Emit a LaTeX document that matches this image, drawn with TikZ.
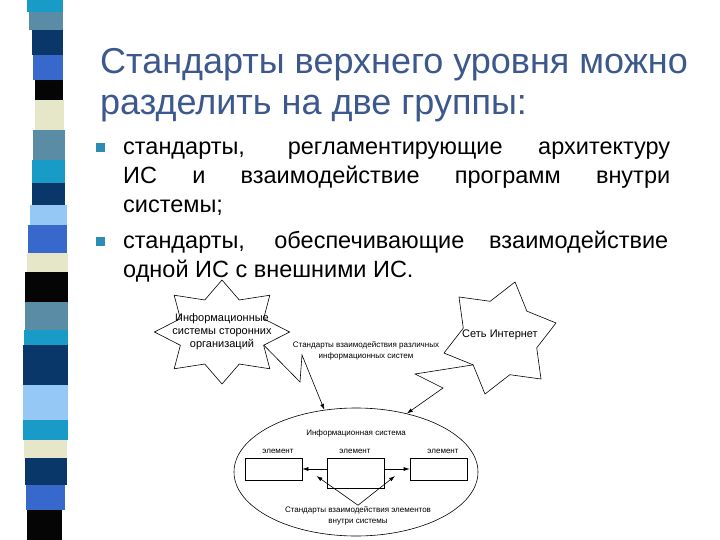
\documentclass[tikz,border=0pt]{standalone}
\usepackage{fontspec}
\setmainfont{Liberation Sans}
\usetikzlibrary{shapes.geometric,arrows.meta,calc}
\definecolor{titleblue}{RGB}{60,88,140}
\definecolor{bulletteal}{RGB}{45,140,180}
\definecolor{scyan}{RGB}{25,155,200}
\definecolor{sgrey}{RGB}{90,140,165}
\definecolor{snavy}{RGB}{10,55,105}
\definecolor{sblue}{RGB}{55,105,205}
\definecolor{sblack}{RGB}{5,5,5}
\definecolor{scream}{RGB}{230,230,200}
\definecolor{slight}{RGB}{150,200,245}
\tikzset{
  titletext/.style={
    anchor=base west,
    inner sep=0,
    text=titleblue,
    font=\fontsize{36}{42}\selectfont
  },
  bullettext/.style={
    anchor=base west,
    inner sep=0,
    font=\fontsize{23.5}{29}\selectfont
  },
  bulletsq/.style={
    fill=bulletteal,
    minimum size=9pt,
    inner sep=0
  },
  orgstar/.style={
    star, star points=8, star point ratio=1.5,
    minimum size=104pt,
    inner sep=0,
    draw, line width=0.6pt
  },
  starline/.style={
    line width=0.6pt,
    line join=miter
  },
  startext/.style={
    align=center,
    font=\fontsize{11}{13}\selectfont
  },
  smalltext/.style={
    align=center,
    inner sep=1pt,
    font=\fontsize{8}{11.5}\selectfont
  },
  isellipse/.style={
    ellipse,
    draw, line width=0.6pt,
    minimum width=244pt,
    minimum height=128pt,
    inner sep=0
  },
  elbox/.style={
    draw, line width=0.6pt,
    minimum width=57pt,
    minimum height=22pt,
    inner sep=0
  },
  flow/.style={
    -{Latex[length=6pt,width=4pt]},
    line width=0.6pt
  }
}

\begin{document}
\begin{tikzpicture}[x=1pt,y=-1pt]
  \useasboundingbox (0,0) rectangle (720,540);
  % left stripe
  \foreach \ya/\yb/\xl/\xr/\col in {
      0/12/27/63/scyan, 12/30/29/63/sgrey, 30/55/32/63/snavy,
      55/80/33/63/sblue, 80/100/35/63/sblack, 100/130/35/64/scream,
      130/160/33/65/sgrey, 160/183/32/65/scyan, 183/205/32/65/snavy,
      205/225/30/67/slight, 225/253/28/67/sblue, 253/272/27/68/scream,
      272/302/25/68/sblack, 302/330/25/68/sgrey, 330/345/24/68/scyan,
      345/385/23/68/snavy, 385/420/23/68/slight, 420/440/23/68/scyan,
      440/458/24/67/scream, 458/485/25/67/snavy, 485/510/26/65/sblue,
      510/540/27/62/sblack} {
    \fill[\col] (\xl,\ya) rectangle (\xr,\yb);
  }

  % title
  \node[titletext] (title1) at (100,74) {Стандарты верхнего уровня можно};
  \node[titletext] (title2) at (100,115) {разделить на две группы:};

  % bullets
  \node[bulletsq] (sq1) at (100,148) {};
  \node[bullettext] (line1) at (123,155) {\makebox[547pt][s]{стандарты, регламентирующие архитектуру}};
  \node[bullettext] (line2) at (123,184) {\makebox[547pt][s]{ИС и взаимодействие программ внутри}};
  \node[bullettext] (line3) at (123,212) {системы;};
  \node[bulletsq] (sq2) at (100,241) {};
  \node[bullettext] (line4) at (123,248) {\makebox[545pt][s]{стандарты, обеспечивающие взаимодействие}};
  \node[bullettext] (line5) at (123,277) {одной ИС с внешними ИС.};

  % outer systems
  \node[orgstar, xscale=1.3] (orgs) at (222,332) {};
  \node[startext] (orgstxt) at (orgs.center) {Информационные\\системы сторонних\\организаций};
  \draw[starline] ({500+58*cos(75)},{338-58*sin(75)})
    \foreach \k in {0,...,5} {
      -- ({500+38*cos(105+60*\k)},{338-38*sin(105+60*\k)})
      -- ({500+58*cos(135+60*\k)},{338-58*sin(135+60*\k)})
    } -- cycle;
  \coordinate (inetin) at ({500+38*cos(225)},{338-38*sin(225)});
  \node[startext] (inet) at (500,335) {Сеть Интернет};
  \node[smalltext] (stdext) at (366,351) {Стандарты взаимодействия различных\\информационных систем};

  % the system and its elements
  \node[isellipse] (is) at (356,472) {};
  \node[smalltext] (istxt) at (356,433) {Информационная система};
  \node[elbox] (elA) at (273.5,469) {};
  \node[elbox, minimum height=30pt] (elB) at (355.5,473) {};
  \node[elbox] (elC) at (438.5,469) {};
  \node[smalltext] (elAtxt) at (278,451) {элемент};
  \node[smalltext] (elBtxt) at (355,451) {элемент};
  \node[smalltext] (elCtxt) at (443,451) {элемент};
  \node[smalltext] (stdint) at (358,516) {Стандарты взаимодействия элементов\\внутри системы};

  % connectors
  \draw[flow] (orgs.inner point 6) -- (300,382) -- (302,355) -- (is.117);
  \draw[flow] (inetin) -- (415,374) -- (443,388) -- (is.49);
  \draw[flow] (elA.east -| elB.west) -- (elA.east);
  \draw[flow] (elC.west -| elB.east) -- (elC.west);
  \coordinate (tipA) at ($(elA.east)!.5!(elA.east -| elB.west) + (2,7)$);
  \coordinate (tipC) at ($(elC.west)!.5!(elC.west -| elB.east) + (-2,7)$);
  \draw[flow] (stdint.north) -- (tipA);
  \draw[flow] (stdint.north) -- (tipC);
\end{tikzpicture}
\end{document}
